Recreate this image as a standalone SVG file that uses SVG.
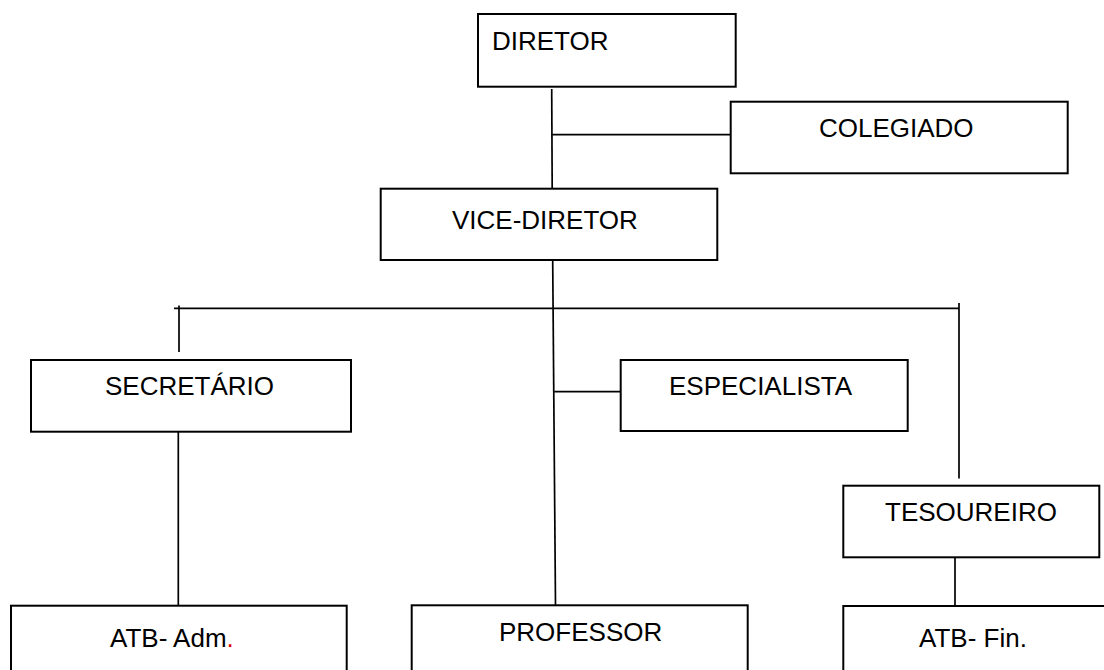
<svg xmlns="http://www.w3.org/2000/svg" width="1104" height="670" viewBox="0 0 1104 670">
<style>
.box{fill:#fff;stroke:#000;stroke-width:2}
.ln{stroke:#000;stroke-width:1.7;fill:none}
text{font-family:"Liberation Sans",Arial,sans-serif;font-size:26px;fill:#000}
</style>
<rect width="1104" height="670" fill="#fff"/>
<g id="connectors">
<line class="ln" x1="551.7" y1="89" x2="552.2" y2="189"/>
<line class="ln" x1="551.7" y1="134.7" x2="731" y2="134.7"/>
<line class="ln" x1="552.7" y1="261" x2="555.5" y2="605"/>
<line class="ln" x1="174" y1="308.3" x2="959" y2="308.3"/>
<line class="ln" x1="179" y1="305.5" x2="179" y2="352"/>
<line class="ln" x1="959" y1="303" x2="959" y2="478.5"/>
<line class="ln" x1="554.3" y1="391.7" x2="621" y2="391.7"/>
<line class="ln" x1="178.3" y1="432" x2="178.3" y2="606"/>
<line class="ln" x1="955" y1="557" x2="955" y2="606"/>
</g>
<g id="diretor"><rect class="box" x="478" y="14" width="257.7" height="72.7"/><text x="492" y="50">DIRETOR</text></g>
<g id="colegiado"><rect class="box" x="730.7" y="101.7" width="337" height="71.6"/><text x="819" y="137">COLEGIADO</text></g>
<g id="vice-diretor"><rect class="box" x="380.7" y="188.7" width="336.6" height="71.3"/><text x="452" y="229">VICE-DIRETOR</text></g>
<g id="secretario"><rect class="box" x="31" y="360" width="320" height="71.7"/><text x="105" y="395">SECRETÁRIO</text></g>
<g id="especialista"><rect class="box" x="620.7" y="360" width="287" height="71"/><text x="669" y="395">ESPECIALISTA</text></g>
<g id="tesoureiro"><rect class="box" x="843.3" y="485.7" width="256" height="71.6"/><text x="885" y="521">TESOUREIRO</text></g>
<g id="atb-adm"><rect class="box" x="11" y="605.7" width="335.7" height="80"/><text x="110" y="647">ATB- Adm<tspan fill="#e00000">.</tspan></text></g>
<g id="professor"><rect class="box" x="411.7" y="605.3" width="336" height="80"/><text x="499" y="641">PROFESSOR</text></g>
<g id="atb-fin"><rect class="box" x="843.3" y="606" width="280" height="80"/><text x="919" y="647">ATB- Fin.</text></g>
</svg>
